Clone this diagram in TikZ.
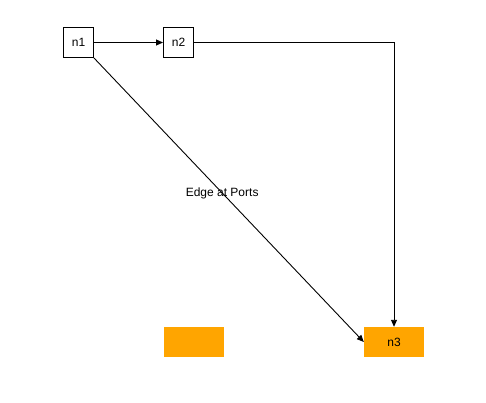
\documentclass[tikz,border=0pt]{standalone}
\usepackage{fontspec}
\setmainfont{Liberation Sans}
\usetikzlibrary{arrows.meta,positioning}
\definecolor{amber}{HTML}{FFA500}

\begin{document}
\begin{tikzpicture}[
  x=1pt, y=1pt,
  node distance=69pt,
  font=\fontsize{12}{14}\selectfont,
  box/.style={draw, line width=1pt, minimum width=30pt, minimum height=30pt,
              inner sep=0pt},
  blk/.style={fill=amber, minimum width=60pt, minimum height=30pt, inner sep=0pt},
  ar/.style={-{Triangle[length=7pt, width=6pt]}, line width=0.9pt}
]
\useasboundingbox (0,0) rectangle (486,-402);
\node[box] (n1) at (78.5,-42.5) {n1};
\node[box, right=of n1] (n2) {n2};
\node[blk] (n3) at (394,-342) {n3};
\node[blk] (blk) at (194,-342) {};

\draw[ar] (n1) -- (n2);
\draw[ar] (n2.east) -| (n3.north);
\draw[ar] (n1.south east) -- node[pos=0.475] (lbl) {Edge at Ports} (n3.west);
\end{tikzpicture}
\end{document}
